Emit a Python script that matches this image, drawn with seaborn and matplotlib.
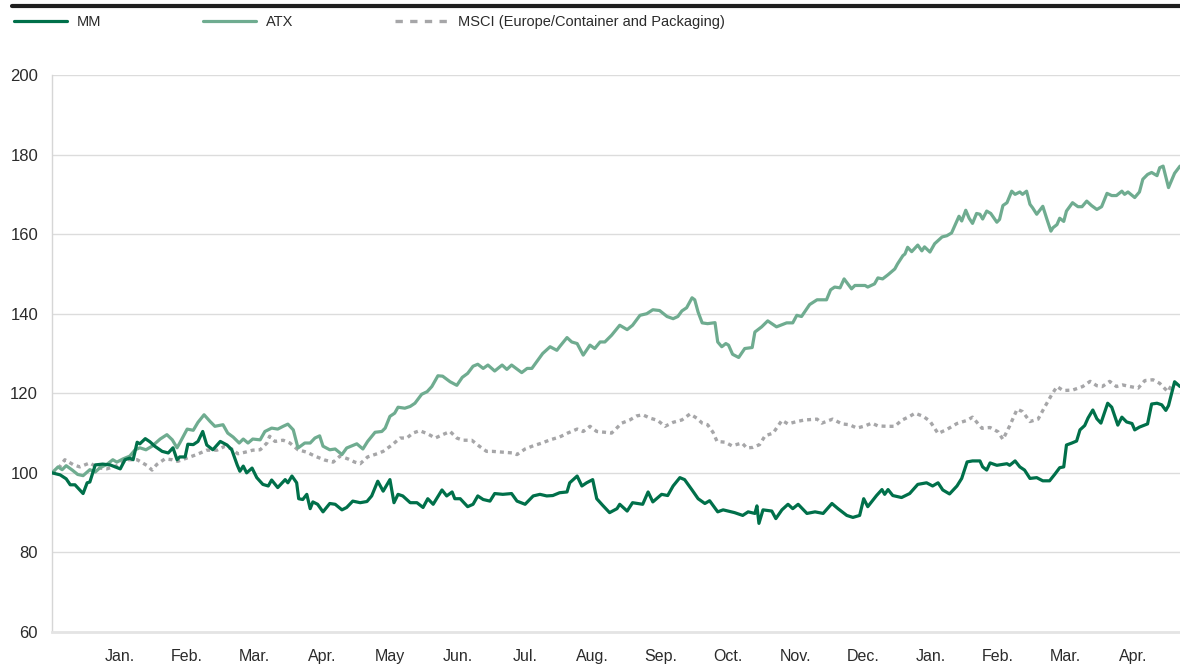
import matplotlib
matplotlib.use('Agg')
import matplotlib.pyplot as plt
from matplotlib.lines import Line2D
import seaborn as sns

# time axis in months from start of the period (tick 1 = Jan.)
mm_month = [0.00, 0.12, 0.21, 0.27, 0.34, 0.46, 0.52, 0.56, 0.64, 0.75, 0.86, 1.01, 1.08, 1.15, 1.20, 1.26,
            1.30, 1.38, 1.45, 1.52, 1.63, 1.72, 1.79, 1.85, 1.89, 1.97, 2.01, 2.09, 2.16, 2.23, 2.29, 2.38,
            2.49, 2.59, 2.66, 2.74, 2.78, 2.83, 2.88, 2.96, 3.03, 3.12, 3.20, 3.25, 3.34, 3.45, 3.49, 3.55,
            3.62, 3.65, 3.71, 3.77, 3.82, 3.86, 3.93, 4.01, 4.11, 4.19, 4.29, 4.36, 4.45, 4.56, 4.66, 4.73,
            4.82, 4.90, 5.00, 5.06, 5.12, 5.19, 5.30, 5.40, 5.49, 5.56, 5.64, 5.77, 5.84, 5.92, 5.96, 6.04,
            6.15, 6.23, 6.30, 6.38, 6.48, 6.55, 6.67, 6.80, 6.88, 7.00, 7.12, 7.22, 7.32, 7.41, 7.51, 7.62,
            7.66, 7.77, 7.84, 7.91, 8.00, 8.06, 8.15, 8.25, 8.36, 8.40, 8.51, 8.59, 8.74, 8.82, 8.89, 9.02,
            9.11, 9.19, 9.29, 9.36, 9.47, 9.56, 9.66, 9.73, 9.85, 9.93, 10.00, 10.10, 10.22, 10.30, 10.40,
            10.43, 10.46, 10.52, 10.65, 10.71, 10.80, 10.89, 10.96, 11.04, 11.17, 11.29, 11.41, 11.54, 11.63,
            11.76, 11.85, 11.95, 12.01, 12.07, 12.20, 12.28, 12.32, 12.37, 12.44, 12.57, 12.69, 12.81, 12.94,
            13.03, 13.11, 13.18, 13.28, 13.39, 13.46, 13.54, 13.62, 13.73, 13.77, 13.83, 13.88, 13.98, 14.13,
            14.17, 14.25, 14.32, 14.39, 14.47, 14.57, 14.66, 14.76, 14.84, 14.91, 14.97, 15.01, 15.09, 15.16,
            15.21, 15.28, 15.33, 15.40, 15.46, 15.52, 15.62, 15.68, 15.77, 15.83, 15.90, 15.98, 16.02, 16.09,
            16.21, 16.27, 16.35, 16.42, 16.48, 16.52, 16.61, 16.69]
mm_value = [100, 99.5, 98.5, 97, 97, 94.8, 97.5, 97.7, 102, 102.2, 102, 101, 103.3, 103.7, 103.3, 107.7,
            107.3, 108.6, 107.8, 106.7, 105.4, 105, 106.3, 103.3, 104, 104, 107.2, 107.1, 107.9, 110.4, 107, 105.8,
            107.9, 107, 105.8, 102, 100.4, 101.7, 100, 101.2, 98.8, 97.1, 96.7, 98.2, 96.3, 98.3, 97.5, 99.2,
            97.5, 93.5, 93.3, 94.6, 91, 92.7, 92.1, 90.2, 92.3, 92.1, 90.7, 91.3, 92.9, 92.5, 92.8, 94.2,
            97.9, 95.4, 98.3, 92.5, 94.6, 94.2, 92.5, 92.5, 91.3, 93.5, 92.1, 95.7, 94.2, 95.2, 93.5, 93.5,
            91.5, 92.1, 94.2, 93.3, 92.9, 94.8, 94.6, 94.8, 92.9, 92.1, 94.2, 94.6, 94.2, 94.3, 95, 95.2,
            97.5, 99.2, 96.7, 97.5, 98.3, 93.5, 91.8, 90, 91, 92.1, 90.4, 92.5, 92.1, 95.2, 92.7, 94.6,
            94.3, 96.7, 98.8, 98.3, 95.7, 93.5, 92.3, 93.0, 90.2, 90.7, 90.4, 90, 89.3, 90.2, 89.8,
            91.7, 87.3, 90.7, 90.4, 88.5, 90.7, 92.1, 91, 92.1, 89.8, 90.2, 89.8, 92.3, 91,
            89.3, 88.8, 89.3, 93.5, 91.5, 94.3, 95.8, 94.6, 95.8, 94.3, 93.8, 94.8, 97.1, 97.5,
            96.7, 97.5, 95.7, 94.7, 96.7, 98.6, 102.75, 103, 103, 101.5, 100.7, 102.5, 101.9, 102.3,
            101.9, 103, 101.5, 100.7, 98.6, 98.8, 98, 98, 99.7, 101.3, 101.5, 107, 107.5, 108,
            110.8, 111.9, 113.8, 115.8, 113.6, 112.5, 117.5, 116.5, 112, 114, 112.8, 112.4, 110.8, 111.5,
            112.3, 117.3, 117.5, 117.1, 115.7, 116.9, 122.9, 121.7]

atx_month = [0.00, 0.09, 0.15, 0.21, 0.30, 0.38, 0.46, 0.56, 0.64, 0.71, 0.81, 0.90, 0.96, 1.05, 1.15, 1.23,
             1.30, 1.39, 1.48, 1.60, 1.70, 1.78, 1.85, 1.89, 2.00, 2.09, 2.16, 2.25, 2.34, 2.41, 2.53, 2.60,
             2.68, 2.77, 2.83, 2.90, 2.97, 3.08, 3.15, 3.25, 3.34, 3.42, 3.49, 3.57, 3.64, 3.74, 3.82, 3.89,
             3.96, 4.01, 4.11, 4.19, 4.29, 4.36, 4.51, 4.60, 4.67, 4.78, 4.88, 4.93, 5.00, 5.07, 5.12, 5.22,
             5.30, 5.37, 5.47, 5.55, 5.62, 5.71, 5.78, 5.89, 5.99, 6.07, 6.15, 6.23, 6.30, 6.38, 6.45, 6.55,
             6.66, 6.73, 6.80, 6.95, 7.03, 7.10, 7.17, 7.26, 7.37, 7.47, 7.51, 7.62, 7.69, 7.77, 7.86, 7.96,
             8.03, 8.11, 8.18, 8.28, 8.40, 8.51, 8.59, 8.70, 8.80, 8.89, 8.99, 9.10, 9.19, 9.26, 9.32, 9.39,
             9.47, 9.51, 9.56, 9.62, 9.70, 9.81, 9.85, 9.91, 9.97, 10.01, 10.07, 10.16, 10.25, 10.36, 10.40,
             10.50, 10.59, 10.72, 10.87, 10.96, 11.02, 11.09, 11.21, 11.32, 11.46, 11.52, 11.58, 11.66, 11.72,
             11.83, 11.88, 12.03, 12.07, 12.17, 12.22, 12.29, 12.37, 12.47, 12.51, 12.59, 12.62, 12.66, 12.72,
             12.81, 12.87, 12.91, 12.99, 13.06, 13.17, 13.24, 13.31, 13.36, 13.42, 13.46, 13.52, 13.57, 13.62,
             13.68, 13.73, 13.77, 13.83, 13.89, 13.98, 14.02, 14.07, 14.13, 14.20, 14.25, 14.32, 14.36, 14.42,
             14.47, 14.51, 14.57, 14.66, 14.72, 14.78, 14.81, 14.87, 14.91, 14.97, 15.01, 15.10, 15.18, 15.24,
             15.31, 15.38, 15.46, 15.53, 15.61, 15.68, 15.75, 15.83, 15.87, 15.92, 16.02, 16.09, 16.14, 16.21,
             16.27, 16.35, 16.39, 16.44, 16.52, 16.61, 16.69]
atx_value = [100, 101.5, 100.8, 101.8, 100.7, 99.6, 99.3, 100.8, 100.2, 101.3, 102.1, 103.3, 102.7, 103.5, 104.2, 105.8,
             106.3, 105.8, 106.7, 108.5, 109.6, 108.3, 106.3, 107.5, 111, 110.7, 112.7, 114.6, 112.9, 111.7, 112.1, 110,
             109, 107.5, 108.5, 107.5, 108.5, 108.3, 110.4, 111.25, 111, 111.7, 112.25, 110.8, 106.25, 107.5, 107.5, 108.75,
             109.3, 106.7, 105.8, 106, 104.6, 106.25, 107.3, 106, 107.9, 110.2, 110.4, 111.25, 114.2, 115, 116.5, 116.25,
             116.7, 117.5, 119.75, 120.4, 121.7, 124.4, 124.3, 122.9, 122, 124, 125, 126.8, 127.3, 126.25, 127.1, 125.6,
             127.1, 126, 127.1, 125.2, 126.25, 126.25, 127.9, 130, 131.7, 130.8, 131.7, 134, 132.9, 132.5, 129.6, 132.1,
             131.25, 132.9, 132.9, 134.6, 137.1, 136, 137.1, 139.6, 140, 141, 140.8, 139.3, 138.75, 139.3, 140.7, 141.5,
             144, 143.5, 140.4, 137.7, 137.5, 137.75, 132.9, 131.7, 132.5, 132.1, 129.8, 129, 131.25, 131.5, 135.4,
             136.7, 138.2, 136.7, 137.7, 137.7, 139.6, 139.3, 142.3, 143.5, 143.5, 146, 146.7, 146.5, 148.75,
             146.25, 147.1, 147.1, 146.7, 147.5, 149, 148.75, 149.8, 151.25, 152.5, 154.6, 155, 156.7, 155.6,
             157.25, 155.8, 156.8, 155.5, 157.6, 159.3, 159.6, 160.3, 162.2, 164.5, 163.3, 166, 164, 162.7,
             165.2, 165, 163.8, 165.8, 165.2, 163, 163.7, 167.2, 167.9, 170.8, 170, 170.6, 170, 170.8,
             167.5, 166.6, 165, 167, 163.8, 160.75, 161.6, 162.4, 164, 163.2, 165.8, 167.9, 166.9, 166.9,
             168.3, 167.2, 166.2, 166.9, 170.25, 169.7, 169.7, 170.8, 170, 170.6, 169.2, 170.6, 173.8, 175,
             175.5, 174.7, 176.7, 177.1, 171.7, 175.3, 177.1]

msci_month = [0.00, 0.09, 0.19, 0.31, 0.41, 0.56, 0.68, 0.81, 0.96, 1.11, 1.26, 1.41, 1.48, 1.55, 1.67, 1.78,
              1.86, 2.00, 2.14, 2.29, 2.44, 2.56, 2.66, 2.75, 2.86, 2.97, 3.08, 3.18, 3.22, 3.30, 3.42, 3.52,
              3.64, 3.77, 3.89, 4.04, 4.16, 4.26, 4.38, 4.48, 4.56, 4.67, 4.81, 4.90, 5.03, 5.15, 5.25, 5.34,
              5.44, 5.56, 5.67, 5.78, 5.89, 5.99, 6.08, 6.21, 6.33, 6.43, 6.52, 6.67, 6.82, 6.88, 7.00, 7.12,
              7.25, 7.37, 7.51, 7.63, 7.77, 7.86, 7.96, 8.06, 8.18, 8.28, 8.43, 8.55, 8.65, 8.74, 8.85, 8.96,
              9.07, 9.19, 9.32, 9.44, 9.54, 9.62, 9.70, 9.78, 9.84, 9.96, 10.06, 10.21, 10.28, 10.37, 10.47,
              10.55, 10.67, 10.80, 10.89, 11.02, 11.14, 11.32, 11.39, 11.55, 11.69, 11.80, 11.91, 12.03, 12.13,
              12.22, 12.35, 12.47, 12.57, 12.69, 12.77, 12.89, 12.99, 13.11, 13.24, 13.39, 13.54, 13.62, 13.76,
              13.88, 14.00, 14.07, 14.17, 14.28, 14.36, 14.47, 14.59, 14.69, 14.79, 14.87, 14.96, 15.10, 15.25,
              15.36, 15.46, 15.54, 15.65, 15.75, 15.84, 15.95, 16.07, 16.17, 16.29, 16.39, 16.51, 16.58, 16.69]
msci_value = [100, 101, 103.3, 102.1, 101.5, 102.5, 101.25, 101, 101.8, 103.3, 103.3, 101.8, 100.7, 102.1, 103.5, 103.3,
              102.9, 103.75, 104.6, 105.7, 105.7, 106.7, 106, 104.8, 105.2, 105.7, 105.8, 107.5, 109.2, 107.9, 108.2, 107.5,
              105.8, 105.2, 104.2, 103.2, 102.7, 104.2, 103.5, 102.7, 102.3, 104, 104.8, 105.4, 107, 108.75, 108.75, 110,
              110.6, 109.8, 108.75, 109.6, 110.4, 108.75, 108.2, 108.2, 106.6, 105.4, 105.4, 105.2, 105, 104.6, 106, 106.8,
              107.5, 108.3, 109, 110, 111, 110.4, 111.7, 110.4, 110.2, 110, 112.5, 113.3, 114.3, 114.6, 113.75, 113.2,
              111.7, 112.7, 113.3, 114.8, 113.75, 112.5, 112.1, 110.2, 107.9, 107.7, 106.8, 107.5, 106.25, 106.4, 107.1,
              109.3, 110, 113.2, 112.3, 112.9, 113.3, 113.5, 112.5, 113.5, 112.3, 112.1, 111.25, 111.8, 112.5,
              111.8, 111.7, 111.7, 113.2, 114.2, 115, 114.2, 113, 109.9, 110.9, 112.4, 113.2, 114, 111.2,
              111.4, 110.3, 108.4, 111.8, 116, 115.4, 112.9, 113.5, 116.6, 119.6, 121.7, 120.7, 120.8, 121.7,
              123, 121.9, 121.7, 123, 121.7, 122.1, 121.7, 121.3, 123.2, 123.4, 122.5, 120.4, 122.5, 122.1]

month_labels = ['Jan.', 'Feb.', 'Mar.', 'Apr.', 'May', 'Jun.', 'Jul.', 'Aug.', 'Sep.', 'Oct.', 'Nov.', 'Dec.',
                'Jan.', 'Feb.', 'Mar.', 'Apr.']
y_ticks = [60, 80, 100, 120, 140, 160, 180, 200]

c_mm = '#00704a'
c_atx = '#6fac90'
c_msci = '#a6a6a8'
c_text = '#2b2b2b'

sns.set_style('white')
plt.rcParams['font.family'] = ['Liberation Sans', 'DejaVu Sans']

fig = plt.figure(figsize=(11.8, 6.64), dpi=100)
ax = fig.add_axes([52 / 1180, 32 / 664, 1128 / 1180, 557 / 664])

sns.lineplot(x=msci_month, y=msci_value, ax=ax, color=c_msci, lw=2.4,
             linestyle=(0, (1.2, 1.2)), zorder=2)
sns.lineplot(x=atx_month, y=atx_value, ax=ax, color=c_atx, lw=2.3, zorder=3)
sns.lineplot(x=mm_month, y=mm_value, ax=ax, color=c_mm, lw=2.3, zorder=4)

ax.set_xlim(0, 16.69)
ax.set_ylim(60, 200)
ax.set_yticks(y_ticks)
ax.set_xticks(range(1, 17))
ax.set_xticklabels(month_labels)
ax.set_xlabel('')
ax.set_ylabel('')

ax.grid(axis='y', color='#dcdcdc', lw=1)
ax.grid(axis='x', visible=False)
for side in ['top', 'right']:
    ax.spines[side].set_visible(False)
ax.spines['left'].set_color('#d6d6d6')
ax.spines['left'].set_linewidth(1)
ax.spines['bottom'].set_color('#e4e4e4')
ax.spines['bottom'].set_linewidth(2)
ax.tick_params(axis='y', length=5, width=1, color='#d0d0d0', pad=5, labelsize=12, labelcolor=c_text)
ax.tick_params(axis='x', length=0, pad=12, labelsize=11.5, labelcolor=c_text)

# legend above the plot (the dashed key uses longer dashes than the line)
handles = [Line2D([], [], color=c_mm, lw=2.3),
           Line2D([], [], color=c_atx, lw=2.3),
           Line2D([], [], color=c_msci, lw=2.4, linestyle=(0, (2.2, 2.2)))]
labels = ['MM', 'ATX', 'MSCI (Europe/Container and Packaging)']
fig.legend(handles, labels,
           loc='upper left', bbox_to_anchor=(14 / 1180, 1 - 15 / 664), ncol=3, frameon=False,
           fontsize=10.5, handlelength=3.6, handletextpad=0.7, columnspacing=7.0,
           labelcolor=c_text, borderaxespad=0, borderpad=0)

# black rule at the top
fig.add_artist(Line2D([12 / 1180, 1], [1 - 5.5 / 664, 1 - 5.5 / 664], color='#1f1f1f', lw=3,
                      transform=fig.transFigure))

fig.savefig('out.png', dpi=100)
